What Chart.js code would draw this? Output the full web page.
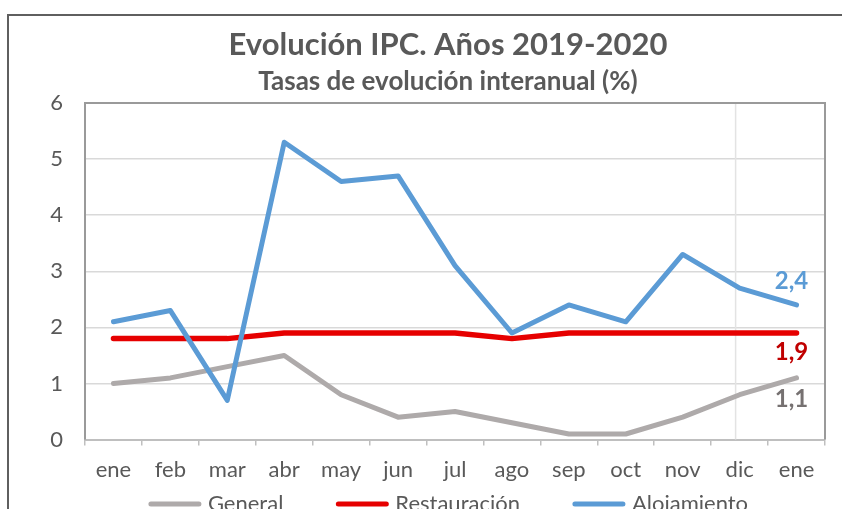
<!DOCTYPE html>
<html>
<head>
<meta charset="utf-8">
<script src="https://cdn.jsdelivr.net/npm/chart.js@4/dist/chart.umd.min.js"></script>
<style>
  html, body { margin: 0; padding: 0; background: #fff; overflow: hidden; }
  #marco {
    position: absolute; left: 7px; top: 14px;
    width: 878px; height: 520px;
    border-left: 2px solid #5f5f5f; border-top: 2px solid #5f5f5f;
  }
  #marco canvas { display: block; }
</style>
</head>
<body>
<div id="marco"><canvas id="grafico" width="878" height="520"></canvas></div>
<script>
// Datos
const meses = ['ene', 'feb', 'mar', 'abr', 'may', 'jun', 'jul', 'ago', 'sep', 'oct', 'nov', 'dic', 'ene'];
const general      = [1.0, 1.1, 1.3, 1.5, 0.8, 0.4, 0.5, 0.3, 0.1, 0.1, 0.4, 0.8, 1.1];
const restauracion = [1.8, 1.8, 1.8, 1.9, 1.9, 1.9, 1.9, 1.8, 1.9, 1.9, 1.9, 1.9, 1.9];
const alojamiento  = [2.1, 2.3, 0.7, 5.3, 4.6, 4.7, 3.1, 1.9, 2.4, 2.1, 3.3, 2.7, 2.4];
const ticksY = [0, 1, 2, 3, 4, 5, 6];

const FUENTE = 'Lato, "Open Sans", sans-serif';
const GRIS_TEXTO = '#595959';

// etiqueta del último valor de cada serie
const etiquetasFinales = {
  id: 'etiquetasFinales',
  afterDatasetsDraw(chart) {
    const ctx = chart.ctx;
    const estilos = [
      { color: '#767171', dy: 21 },
      { color: '#C00000', dy: 19 },
      { color: '#5B9BD5', dy: -24 }
    ];
    ctx.save();
    ctx.font = 'bold 24px ' + FUENTE;
    ctx.textAlign = 'center';
    ctx.textBaseline = 'middle';
    chart.data.datasets.forEach((ds, i) => {
      const meta = chart.getDatasetMeta(i);
      const ultimo = meta.data[meta.data.length - 1];
      const valor = ds.data[ds.data.length - 1];
      ctx.fillStyle = estilos[i].color;
      ctx.fillText(valor.toFixed(1).replace('.', ','), ultimo.x - 5, ultimo.y + estilos[i].dy);
    });
    ctx.restore();
  }
};

// borde del área de trazado y la línea vertical clara
const bordeArea = {
  id: 'bordeArea',
  beforeDatasetsDraw(chart) {
    const { ctx, chartArea: a, scales } = chart;
    ctx.save();
    ctx.strokeStyle = '#E3E3E3';
    ctx.lineWidth = 1.5;
    const xv = scales.x.getPixelForValue(11) - 4;
    ctx.beginPath();
    ctx.moveTo(xv, a.top);
    ctx.lineTo(xv, a.bottom);
    ctx.stroke();
    ctx.strokeStyle = '#9a9a9a';
    ctx.lineWidth = 2;
    ctx.beginPath();
    ctx.moveTo(a.left, a.bottom);
    ctx.lineTo(a.left, a.top);
    ctx.lineTo(a.right, a.top);
    ctx.lineTo(a.right, a.bottom);
    ctx.stroke();
    ctx.restore();
  }
};

// leyenda dibujada a mano (la de Chart.js usa el mismo padding en vertical)
const leyenda = {
  id: 'leyenda',
  afterDraw(chart) {
    const ctx = chart.ctx;
    const muestra = 54, hueco = 6, separacion = 52;
    ctx.save();
    ctx.font = '22px ' + FUENTE;
    ctx.textBaseline = 'middle';
    const items = chart.data.datasets.map(ds => ({
      texto: ds.label, color: ds.borderColor, ancho: ctx.measureText(ds.label).width
    }));
    const total = items.reduce((s, it) => s + muestra + hueco + it.ancho, 0) + separacion * (items.length - 1);
    let x = chart.width / 2 - total / 2;
    const y = chart.scales.x.bottom + 10;
    items.forEach(it => {
      ctx.strokeStyle = it.color;
      ctx.lineWidth = 5;
      ctx.lineCap = 'round';
      ctx.beginPath();
      ctx.moveTo(x + 3, y);
      ctx.lineTo(x + muestra - 3, y);
      ctx.stroke();
      ctx.fillStyle = GRIS_TEXTO;
      ctx.fillText(it.texto, x + muestra + hueco, y);
      x += muestra + hueco + it.ancho + separacion;
    });
    ctx.restore();
  }
};

new Chart(document.getElementById('grafico'), {
  type: 'line',
  data: {
    labels: meses,
    datasets: [
      { label: 'General', data: general, borderColor: '#AEAAAA', backgroundColor: '#AEAAAA', borderWidth: 5, order: 2 },
      { label: 'Restauración', data: restauracion, borderColor: '#E60000', backgroundColor: '#E60000', borderWidth: 5.5, order: 1 },
      { label: 'Alojamiento', data: alojamiento, borderColor: '#5B9BD5', backgroundColor: '#5B9BD5', borderWidth: 5, order: 0 }
    ]
  },
  options: {
    responsive: false,
    animation: false,
    layout: { padding: { left: 0, right: 0, top: 0, bottom: 42 } },
    elements: {
      point: { radius: 0, hoverRadius: 0 },
      line: { tension: 0, borderCapStyle: 'round', borderJoinStyle: 'round' }
    },
    plugins: {
      tooltip: { enabled: false },
      legend: { display: false },
      title: {
        display: true,
        text: 'Evolución IPC. Años 2019-2020',
        color: GRIS_TEXTO,
        font: { family: FUENTE, size: 31, weight: 'bold' },
        padding: { top: 10, bottom: 0 }
      },
      subtitle: {
        display: true,
        text: 'Tasas de evolución interanual (%)',
        color: GRIS_TEXTO,
        font: { family: FUENTE, size: 26, weight: 'bold' },
        padding: { top: 3, bottom: 5.6 }
      }
    },
    scales: {
      x: {
        offset: true,
        grid: { display: true, drawOnChartArea: false, drawTicks: true, tickLength: 6, color: '#BFBFBF', lineWidth: 1.5, offset: true },
        border: { display: true, color: '#BFBFBF', width: 2 },
        ticks: { color: GRIS_TEXTO, font: { family: FUENTE, size: 22 }, padding: 11, maxRotation: 0, autoSkip: false }
      },
      y: {
        min: ticksY[0],
        max: ticksY[ticksY.length - 1],
        afterBuildTicks(scale) { scale.ticks = ticksY.map(v => ({ value: v })); },
        afterFit(scale) { scale.width = 76; },
        grid: { color: '#D9D9D9', lineWidth: 1.5, drawTicks: false },
        border: { display: false },
        ticks: { color: GRIS_TEXTO, font: { family: FUENTE, size: 22 }, padding: 22 }
      },
      derecha: {
        position: 'right',
        min: 0,
        max: 6,
        afterFit(scale) { scale.width = 62; },
        grid: { display: false },
        border: { display: false },
        ticks: { display: false }
      }
    }
  },
  plugins: [bordeArea, etiquetasFinales, leyenda]
});
</script>
</body>
</html>
